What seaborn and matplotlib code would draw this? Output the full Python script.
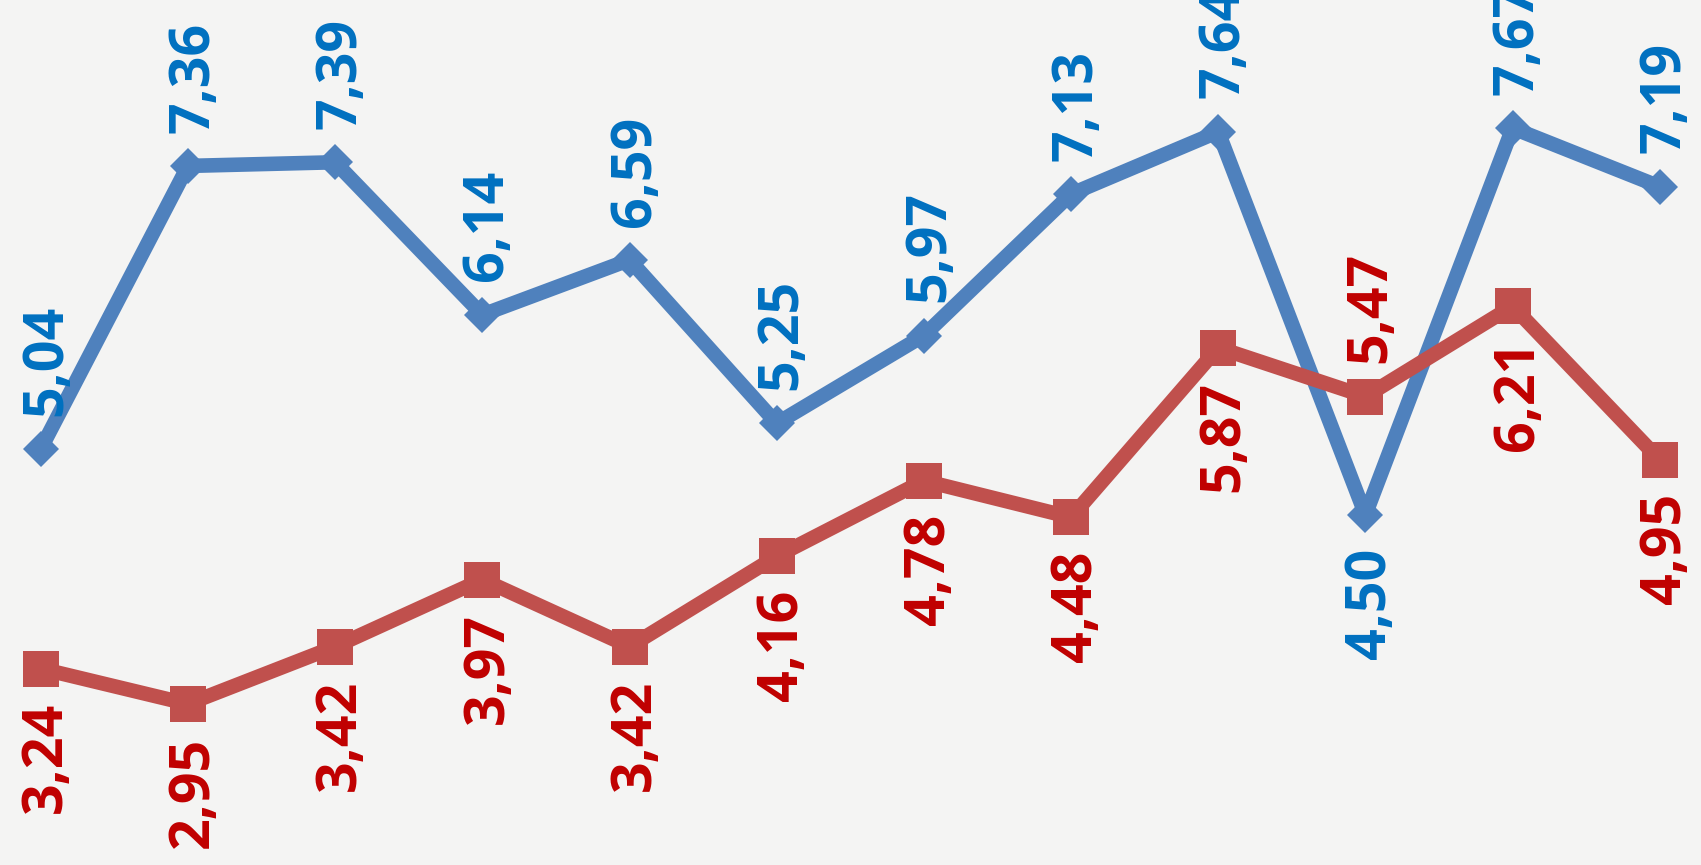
import matplotlib
matplotlib.use("Agg")
import matplotlib.pyplot as plt
import seaborn as sns
import pandas as pd

# values
idx = list(range(12))
blue_vals = [5.04, 7.36, 7.39, 6.14, 6.59, 5.25, 5.97, 7.13, 7.64, 4.50, 7.67, 7.19]
red_vals = [3.24, 2.95, 3.42, 3.97, 3.42, 4.16, 4.78, 4.48, 5.87, 5.47, 6.21, 4.95]
# label above (+1) or below (-1) the point
blue_side = [1, 1, 1, 1, 1, 1, 1, 1, 1, -1, 1, 1]
red_side = [-1, -1, -1, -1, -1, -1, -1, -1, -1, 1, -1, -1]

df = pd.DataFrame({"x": idx, "blue": blue_vals, "red": red_vals})

sns.set_theme(style="white")
plt.rcParams['font.family'] = ['Open Sans', 'DejaVu Sans']

fig = plt.figure(figsize=(17.01, 8.65), dpi=100)
fig.patch.set_facecolor("#f4f4f3")
ax = fig.add_axes([0, 0, 1, 1])
ax.set_facecolor("#f4f4f3")

sns.lineplot(data=df, x="x", y="blue", ax=ax, color="#4f81bd", linewidth=10.5,
             marker="D", markersize=18, markeredgewidth=0, zorder=2)
sns.lineplot(data=df, x="x", y="red", ax=ax, color="#c0504d", linewidth=10.5,
             marker="s", markersize=26, markeredgewidth=0, zorder=3)


def fmt(v):
    return "{:.2f}".format(v).replace(".", ",")


for xs, ys, sides, col in [(idx, blue_vals, blue_side, "#0070c0"),
                           (idx, red_vals, red_side, "#c00000")]:
    for x, y, s in zip(xs, ys, sides):
        ax.annotate(fmt(y), (x, y), xytext=(4, 24 * s), textcoords="offset points",
                    rotation=90, ha="center", va="bottom" if s > 0 else "top",
                    fontsize=40, fontweight="bold", color=col, zorder=4)

ax.set_xlim(-0.277, 11.28)
ax.set_ylim(1.63, 8.72)
ax.set_xlabel("")
ax.set_ylabel("")
ax.set_xticks([])
ax.set_yticks([])
for sp in ax.spines.values():
    sp.set_visible(False)

fig.savefig("out.png", dpi=100, facecolor=fig.get_facecolor())
